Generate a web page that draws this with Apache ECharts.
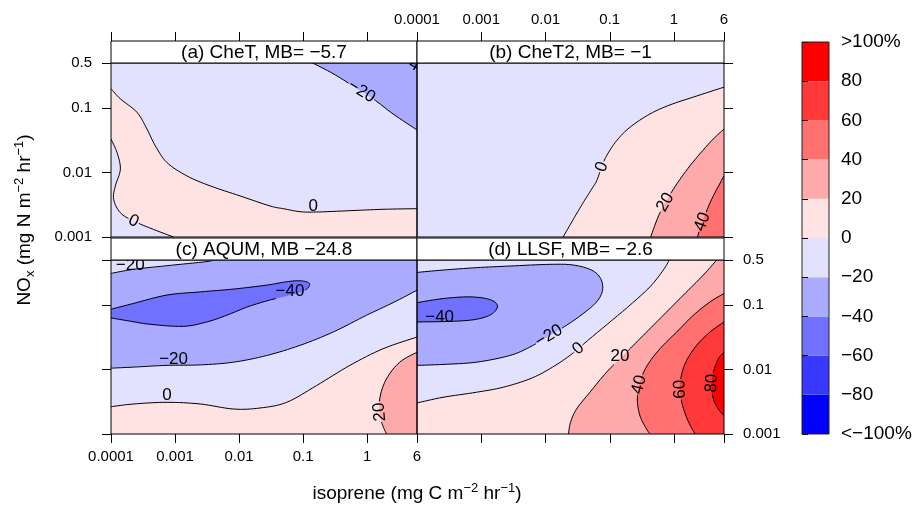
<!DOCTYPE html>
<html>
<head>
<meta charset="utf-8">
<script src="https://cdn.jsdelivr.net/npm/echarts@6/dist/echarts.min.js"></script>
<style>
  html, body { margin: 0; padding: 0; background: #fff; }
  #chart { width: 915px; height: 505px; }
</style>
</head>
<body>
<div id="chart"></div>
<script>
// ---- data ----
const panelTitles = ['(a) CheT, MB= \u22125.7', '(b) CheT2, MB= \u22121', '(c) AQUM, MB \u221224.8', '(d) LLSF, MB= \u22122.6'];
const xTicks = [0.0001, 0.001, 0.01, 0.1, 1, 6];
const yTicks = [0.001, 0.01, 0.1, 0.5];
const xRange = [0.0001, 6];
const yRange = [0.001, 0.5];
const bandBreaks = [-100, -80, -60, -40, -20, 0, 20, 40, 60, 80]; // lower bound of each band
const bandColors = ['#0000FF', '#3838FF', '#7171FF', '#AAAAFF', '#E2E2FF', '#FFE2E2', '#FFAAAA', '#FF7171', '#FF3838', '#FF0000'];
const baseBand = [-20, -20, -40, -20]; // band covering the rest of each panel

// contour lines as [isoprene, NOx] points; fill = band on the filled side, close = corners that close the region
const contoursA = [
  { level: -20, fill: -40, close: [[6, 0.5]],
    pts: [[0.141, 0.5], [0.295, 0.341], [0.605, 0.219], [1.24, 0.139], [2.54, 0.081], [6, 0.0457]],
    label: { at: [0.77, 0.166] } },
  { level: -40, fill: -60, close: [[6, 0.5]],
    pts: [[4.75, 0.5], [6, 0.438]],
    label: { at: [5.4, 0.47] } },
  { level: 0, fill: 0, close: [[6, 0.001], [0.0001, 0.001]],
    pts: [[0.0001, 0.199], [1.4e-4, 0.139], [2.54e-4, 0.0861], [3.64e-4, 0.0474], [4.91e-4, 0.0261], [7.46e-4, 0.0143],
          [1.53e-3, 8.87e-3], [3.53e-3, 6.21e-3], [0.0104, 4.33e-3], [0.0304, 3.03e-3], [0.0491, 2.75e-3],
          [0.0893, 2.47e-3], [0.162, 2.44e-3], [0.537, 2.56e-3], [1.77, 2.69e-3], [6, 2.75e-3]],
    label: { at: [0.144, 3.03e-3], flat: true } },
  { level: 0, fill: -20, close: [[0.0001, 0.001]],
    pts: [[0.0001, 0.0331], [1.24e-4, 0.0205], [1.4e-4, 0.0113], [1.17e-4, 6.21e-3], [1.1e-4, 3.85e-3],
          [1.4e-4, 2.38e-3], [2.25e-4, 1.77e-3], [4.62e-4, 1.31e-3], [9.49e-4, 0.001]],
    label: { at: [2.39e-4, 1.99e-3] } }
];

const contoursB = [
  { level: 0, fill: 0, close: [[6, 0.001]],
    pts: [[0.0188, 0.001], [0.027, 1.87e-3], [0.0386, 3.41e-3], [0.0521, 5.51e-3], [0.0624, 7.41e-3], [0.0746, 0.012],
          [0.0893, 0.0182], [0.128, 0.0312], [0.206, 0.0503], [0.423, 0.0811], [0.867, 0.112], [2.0, 0.148], [6, 0.211]],
    label: { at: [0.0588, 0.0135] } },
  { level: 20, fill: 20, close: [[6, 0.001]],
    pts: [[0.433, 0.001], [0.605, 2.38e-3], [0.977, 5.51e-3], [1.77, 0.0127], [3.64, 0.0294], [6, 0.0474]],
    label: { at: [0.605, 3.85e-3] } },
  { level: 40, fill: 40, close: [[6, 0.001]],
    pts: [[2.31, 0.001], [2.86, 1.87e-3], [3.86, 3.85e-3], [6, 8.87e-3]],
    label: { at: [2.45, 1.8e-3] } }
];

const contoursC = [
  { level: -20, fill: -20, close: [[0.0001, 0.5]],
    pts: [[0.0001, 0.31], [2.25e-4, 0.358], [7.46e-4, 0.408], [3.06e-3, 0.471], [3.98e-3, 0.5]],
    label: { at: [2.0e-4, 0.418], flat: true } },
  { level: -20, fill: -20, close: [[6, 0.001], [0.0001, 0.001]],
    pts: [[0.0001, 0.0105], [2.25e-4, 0.0109], [7.46e-4, 0.0116], [2.47e-3, 0.0118], [8.17e-3, 0.013], [0.027, 0.0165],
          [0.0893, 0.0237], [0.295, 0.0382], [0.977, 0.0695], [2.54, 0.109], [6, 0.17]],
    label: { at: [9.49e-4, 0.0143], flat: true } },
  { level: 0, fill: 0, close: [[6, 0.001], [0.0001, 0.001]],
    pts: [[0.0001, 2.65e-3], [2.25e-4, 2.92e-3], [7.46e-4, 3.1e-3], [2.47e-3, 2.92e-3], [8.17e-3, 2.44e-3], [0.0212, 2.53e-3],
          [0.0553, 3.1e-3], [0.162, 5.64e-3], [0.537, 0.0116], [1.77, 0.021], [6, 0.0319]],
    label: { at: [7.46e-4, 3.94e-3], flat: true } },
  { level: 20, fill: 20, close: [[6, 0.001]],
    pts: [[2.0, 0.001], [1.63, 1.7e-3], [1.57, 3.49e-3], [2.0, 7.16e-3], [3.23, 0.013], [6, 0.0186]],
    label: { at: [1.24, 2.16e-3] } },
  { level: -40, fill: -60, close: [],
    pts: [[0.0001, 0.0861], [2.25e-4, 0.106], [7.46e-4, 0.143], [2.47e-3, 0.16], [8.17e-3, 0.177], [0.027, 0.204],
          [0.0553, 0.23], [0.0893, 0.238], [0.12, 0.224], [0.125, 0.199], [0.101, 0.164], [0.0553, 0.139],
          [0.027, 0.116], [0.0131, 0.0926], [6.43e-3, 0.0695], [3.13e-3, 0.0547], [1.35e-3, 0.0468],
          [4.1e-4, 0.0503], [1.77e-4, 0.0574], [0.0001, 0.0631]],
    label: { at: [0.0624, 0.164], flat: true } }
];

const contoursD = [
  { level: -20, fill: -40, close: [],
    pts: [[0.0001, 0.321], [2.54e-4, 0.349], [8.41e-4, 0.38], [2.78e-3, 0.403], [0.0117, 0.428], [0.027, 0.418],
          [0.0521, 0.349], [0.0719, 0.259], [0.0773, 0.17], [0.0624, 0.112], [0.0386, 0.0738], [0.0212, 0.0485],
          [0.0117, 0.0339], [5.7e-3, 0.0223], [2.78e-3, 0.0165], [8.41e-4, 0.013], [2.54e-4, 0.012], [0.0001, 0.0116]],
    label: { at: [0.0104, 0.0382] } },
  { level: -40, fill: -60, close: [],
    pts: [[0.0001, 0.109], [2.54e-4, 0.126], [6.62e-4, 0.134], [1.35e-3, 0.122], [1.79e-3, 0.097], [1.44e-3, 0.072],
          [8.41e-4, 0.0602], [3.64e-4, 0.056], [0.0001, 0.0547]],
    label: { at: [2.25e-4, 0.0655], flat: true } },
  { level: 0, fill: 0, close: [[0.0001, 0.001], [6, 0.001], [6, 0.5]],
    pts: [[0.845, 0.5], [0.682, 0.349], [0.423, 0.192], [0.206, 0.0995], [0.101, 0.0547], [0.0491, 0.0301],
          [0.0239, 0.0165], [0.0117, 0.0103], [5.7e-3, 7.16e-3], [2.19e-3, 5.31e-3], [8.41e-4, 4.44e-3],
          [2.54e-4, 3.71e-3], [0.0001, 3.03e-3]],
    label: { at: [0.0323, 0.021] } },
  { level: 20, fill: 20, close: [[6, 0.001], [6, 0.5]],
    pts: [[4.62, 0.5], [2.86, 0.292], [1.4, 0.143], [0.682, 0.0695], [0.333, 0.0339], [0.162, 0.0165],
          [0.0893, 9.1e-3], [0.0491, 4.44e-3], [0.0304, 2.44e-3], [0.0245, 1.51e-3], [0.0228, 0.001]],
    label: { at: [0.144, 0.0161], flat: true } },
  { level: 40, fill: 40, close: [[6, 0.001]],
    pts: [[6, 0.151], [3.64, 0.112], [2.0, 0.0695], [1.1, 0.0382], [0.605, 0.021], [0.384, 0.0116], [0.295, 6.35e-3],
          [0.269, 3.49e-3], [0.295, 1.92e-3], [0.375, 1.19e-3], [0.423, 0.001]],
    label: { at: [0.262, 5.98e-3] } },
  { level: 60, fill: 60, close: [[6, 0.001]],
    pts: [[6, 0.0547], [3.64, 0.0382], [2.25, 0.0237], [1.57, 0.0138], [1.32, 8.57e-3], [1.24, 5.31e-3],
          [1.32, 3.1e-3], [1.61, 1.7e-3], [2.12, 0.001]],
    label: { at: [0.977, 4.89e-3] } },
  { level: 80, fill: 80, close: [],
    pts: [[6, 0.0186], [4.91, 0.0147], [4.1, 9.1e-3], [3.86, 5.64e-3], [4.1, 3.49e-3], [4.91, 2.44e-3], [6, 1.92e-3]],
    label: { at: [3.04, 6.21e-3] } }
];
const panelContours = [contoursA, contoursB, contoursC, contoursD];

// ---- layout ----
const FONT = "'Liberation Sans', Arial, Helvetica, sans-serif";
const STRIP_H = 22;
const panelBoxes = [
  { left: 111, top: 63, width: 306, height: 174 },
  { left: 417, top: 63, width: 307, height: 174 },
  { left: 111, top: 260, width: 306, height: 174 },
  { left: 417, top: 260, width: 307, height: 174 }
];
// which outer sides carry ticks / labels (lattice style alternation)
const sideModes = [
  { top: 'tick', left: 'label' },
  { top: 'label', right: 'tick' },
  { bottom: 'label', left: 'tick' },
  { bottom: 'tick', right: 'label' }
];
const cbBox = { left: 802, top: 42, width: 27, height: 392 };

const minus = '\u2212';
const fmtLevel = v => (v < 0 ? minus + (-v) : String(v));
const fmtTick = (v, ticks) => {
  const t = ticks.find(t => Math.abs(Math.log10(v / t)) < 1e-6);
  return t === undefined ? '' : String(t);
};
const bandColor = lo => bandColors[bandBreaks.indexOf(lo)];

function smoothPath(p) {
  if (p.length < 3) return p.slice();
  const out = [p[0]];
  for (let i = 0; i < p.length - 1; i++) {
    const p0 = p[Math.max(i - 1, 0)], p1 = p[i], p2 = p[i + 1], p3 = p[Math.min(i + 2, p.length - 1)];
    for (let k = 1; k <= 8; k++) {
      const t = k / 8, t2 = t * t, t3 = t2 * t;
      out.push([0, 1].map(d => 0.5 * (2 * p1[d] + (p2[d] - p0[d]) * t +
        (2 * p0[d] - 5 * p1[d] + 4 * p2[d] - p3[d]) * t2 + (3 * p1[d] - p0[d] - 3 * p2[d] + p3[d]) * t3)));
    }
  }
  return out;
}

// nearest point on a pixel polyline -> arc length, point, direction, distance
function project(px, q) {
  let best = null, acc = 0;
  for (let i = 0; i < px.length - 1; i++) {
    const a = px[i], b = px[i + 1];
    const dx = b[0] - a[0], dy = b[1] - a[1];
    const len = Math.hypot(dx, dy) || 1e-9;
    let t = ((q[0] - a[0]) * dx + (q[1] - a[1]) * dy) / (len * len);
    t = Math.max(0, Math.min(1, t));
    const pt = [a[0] + t * dx, a[1] + t * dy];
    const d = Math.hypot(q[0] - pt[0], q[1] - pt[1]);
    if (!best || d < best.d) best = { d, pt, s: acc + t * len, dir: [dx, dy] };
    acc += len;
  }
  return best;
}

function cutGap(px, g0, g1) {
  const before = [], after = [];
  let acc = 0;
  for (let i = 0; i < px.length; i++) {
    if (i > 0) {
      const a = px[i - 1], b = px[i];
      const len = Math.hypot(b[0] - a[0], b[1] - a[1]);
      const s0 = acc, s1 = acc + len;
      const at = s => { const t = (s - s0) / (len || 1e-9); return [a[0] + t * (b[0] - a[0]), a[1] + t * (b[1] - a[1])]; };
      if (g0 > s0 && g0 <= s1) before.push(at(g0));
      if (g1 >= s0 && g1 < s1) after.push(at(g1));
      acc = s1;
    }
    if (acc < g0) before.push(px[i]);
    else if (acc > g1) after.push(px[i]);
  }
  return [before, after].filter(s => s.length > 1);
}

function fillSeries(p) {
  const corners = [[xRange[0], yRange[0]], [xRange[1], yRange[0]], [xRange[1], yRange[1]], [xRange[0], yRange[1]]];
  const layers = [{ fill: baseBand[p], pts: corners, close: [], raw: true }]
    .concat(panelContours[p].filter(c => c.fill !== null));
  return {
    type: 'custom', xAxisIndex: 2 * p, yAxisIndex: 2 * p, clip: true, silent: true, z: 2,
    data: layers.map((l, i) => [l.pts[0][0], l.pts[0][1], i]),
    renderItem: (params, api) => {
      const l = layers[params.dataIndex];
      const line = l.pts.map(pt => api.coord(pt));
      const poly = (l.raw ? line : smoothPath(line)).concat(l.close.map(pt => api.coord(pt)));
      return { type: 'polygon', shape: { points: poly }, style: { fill: bandColor(l.fill), stroke: bandColor(l.fill), lineWidth: 0.3 } };
    }
  };
}

function lineSeries(p) {
  const contours = panelContours[p];
  const fs = 17;
  return {
    type: 'custom', xAxisIndex: 2 * p, yAxisIndex: 2 * p, clip: true, silent: true, z: 3,
    data: contours.map((c, i) => [c.pts[0][0], c.pts[0][1], i]),
    renderItem: (params, api) => {
      const c = contours[params.dataIndex];
      const px = smoothPath(c.pts.map(pt => api.coord(pt)));
      const children = [];
      let segs = [px];
      if (c.label) {
        const text = fmtLevel(c.level);
        const w = text.length * fs * 0.56, h = fs * 0.75;
        const q = api.coord(c.label.at);
        const pr = project(px, q);
        const a = Math.atan2(pr.dir[1], pr.dir[0]);
        // text rotation (counter-clockwise), kept readable: vertical text reads bottom-to-top
        let rot = -a;
        while (rot > Math.PI * 0.56) rot -= Math.PI;
        while (rot <= -Math.PI * 0.44) rot += Math.PI;
        let pos = q, half = null;
        if (c.label.flat) {
          rot = 0;
          if (pr.d < 4) {
            const ca = Math.abs(Math.cos(a)), sa = Math.abs(Math.sin(a));
            half = Math.min(ca > 1e-3 ? w / 2 / ca : 1e9, sa > 1e-3 ? h / 2 / sa : 1e9) + 1;
          }
        } else {
          pos = pr.pt; half = w / 2 + 1;
        }
        if (half !== null) segs = cutGap(px, pr.s - half, pr.s + half);
        children.push({
          type: 'text', x: pos[0], y: pos[1], rotation: rot, z2: 5,
          style: { text, fontSize: fs, fontFamily: FONT, fill: '#000', align: 'center', verticalAlign: 'middle' }
        });
      }
      segs.forEach(s => children.push({ type: 'polyline', shape: { points: s }, style: { stroke: '#000', lineWidth: 1, fill: null } }));
      return { type: 'group', children };
    }
  };
}

function logAxis(gridIndex, position, range, ticks, mode, offset, margin) {
  return {
    type: 'log', logBase: 10, gridIndex, position, min: range[0], max: range[1], offset: offset || 0, z: 10,
    axisLine: { show: false },
    splitLine: { show: false },
    axisTick: { show: !!mode, customValues: ticks, length: 9, lineStyle: { color: '#000', width: 1 } },
    axisLabel: {
      show: mode === 'label', customValues: ticks, margin, color: '#000', fontSize: 15, fontFamily: FONT,
      formatter: v => fmtTick(v, ticks)
    }
  };
}

const grids = panelBoxes.map(b => ({ left: b.left, top: b.top, width: b.width, height: b.height, show: false }));
grids.push({ left: cbBox.left, top: cbBox.top, width: cbBox.width, height: cbBox.height, show: false });

const xAxes = [], yAxes = [];
sideModes.forEach((m, p) => {
  xAxes.push(logAxis(p, 'bottom', xRange, xTicks, m.bottom, 0, 15));
  xAxes.push(logAxis(p, 'top', xRange, xTicks, m.top, p < 2 ? STRIP_H : 0, 14));
  yAxes.push(logAxis(p, 'left', yRange, yTicks, m.left, 0, 19));
  yAxes.push(logAxis(p, 'right', yRange, yTicks, m.right, 0, 19));
});
xAxes.push({ type: 'value', gridIndex: 4, min: 0, max: 1, show: false });
yAxes.push({
  type: 'value', gridIndex: 4, position: 'right', min: -100, max: 100, interval: 20, z: 10,
  axisLine: { show: false }, splitLine: { show: false },
  axisTick: { show: true, length: 6, lineStyle: { color: '#000' } },
  axisLabel: {
    margin: 12, color: '#000', fontSize: 19, fontFamily: FONT,
    formatter: v => (v === 100 ? '>100%' : v === -100 ? '<' + minus + '100%' : fmtLevel(v))
  }
});

const series = [];
for (let p = 0; p < 4; p++) series.push(fillSeries(p), lineSeries(p));
series.push({
  type: 'custom', xAxisIndex: 8, yAxisIndex: 8, silent: true, z: 2,
  data: bandBreaks.map((lo, i) => [0, lo, i]),
  renderItem: (params, api) => {
    const lo = api.value(1);
    const p0 = api.coord([0, lo]), p1 = api.coord([1, lo + 20]);
    return { type: 'rect', shape: { x: p0[0], y: p1[1], width: p1[0] - p0[0], height: p0[1] - p1[1] },
      style: { fill: bandColors[params.dataIndex] } };
  }
});

// frames, strips and axis titles
const graphic = [];
panelBoxes.forEach((b, p) => {
  graphic.push({ type: 'rect', z: 100, silent: true,
    shape: { x: b.left, y: b.top, width: b.width, height: b.height },
    style: { fill: 'none', stroke: '#000', lineWidth: 1 } });
  graphic.push({ type: 'rect', z: 100, silent: true,
    shape: { x: b.left, y: b.top - STRIP_H, width: b.width, height: STRIP_H },
    style: { fill: '#fff', stroke: '#000', lineWidth: 1 } });
  graphic.push({ type: 'text', z: 101, silent: true, x: b.left + b.width / 2, y: b.top - STRIP_H / 2 + 0.5,
    style: { text: panelTitles[p], fontSize: 19, fontFamily: FONT, fill: '#000', align: 'center', verticalAlign: 'middle' } });
});
graphic.push({ type: 'rect', z: 100, silent: true,
  shape: { x: cbBox.left, y: cbBox.top, width: cbBox.width, height: cbBox.height },
  style: { fill: 'none', stroke: '#222', lineWidth: 1 } });
const titleRich = {
  n: { fontSize: 19, fontFamily: FONT, fill: '#000', lineHeight: 24 },
  s: { fontSize: 13, fontFamily: FONT, fill: '#000', lineHeight: 12, verticalAlign: 'top' },
  b: { fontSize: 13, fontFamily: FONT, fill: '#000', lineHeight: 16, verticalAlign: 'bottom' }
};
graphic.push({ type: 'text', z: 101, silent: true, x: 417, y: 494,
  style: { text: '{n|isoprene (mg C m}{s|' + minus + '2}{n| hr}{s|' + minus + '1}{n|)}', rich: titleRich,
    align: 'center', verticalAlign: 'middle' } });
graphic.push({ type: 'text', z: 101, silent: true, x: 25, y: 220, rotation: Math.PI / 2,
  style: { text: '{n|NO}{b|x}{n| (mg N m}{s|' + minus + '2}{n| hr}{s|' + minus + '1}{n|)}', rich: titleRich,
    align: 'center', verticalAlign: 'middle' } });

const chart = echarts.init(document.getElementById('chart'));
chart.setOption({
  animation: false,
  backgroundColor: '#fff',
  grid: grids,
  xAxis: xAxes,
  yAxis: yAxes,
  series,
  graphic
});
</script>
</body>
</html>
